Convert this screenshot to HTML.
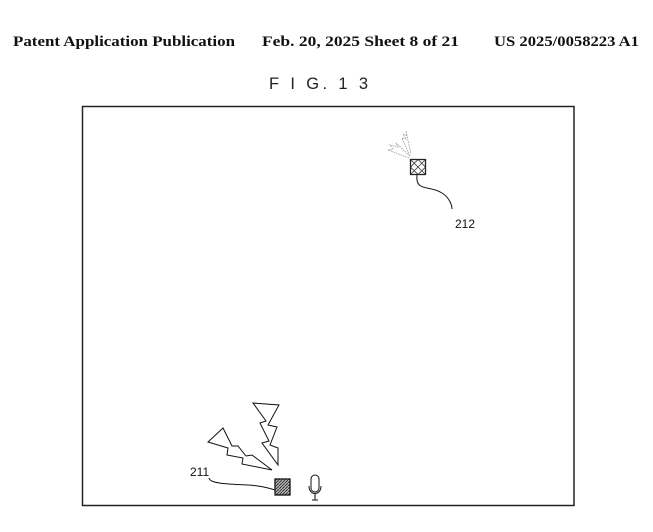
<!DOCTYPE html>
<html><head><meta charset="utf-8"><style>
html,body{margin:0;padding:0;background:#fff;}
svg{display:block;}
</style></head><body>
<svg width="653" height="532" viewBox="0 0 653 532" xmlns="http://www.w3.org/2000/svg">
<defs>
<pattern id="hatch" width="3" height="3" patternUnits="userSpaceOnUse">
<rect width="3" height="3" fill="#bbb"/><path d="M0,3 L3,0" stroke="#333" stroke-width="1"/>
</pattern>
</defs>
<g font-family="Liberation Serif, serif" font-weight="bold" font-size="14.5" fill="#111">
<text x="13" y="46" textLength="222" lengthAdjust="spacingAndGlyphs">Patent Application Publication</text>
<text x="262" y="46" textLength="197" lengthAdjust="spacingAndGlyphs">Feb. 20, 2025  Sheet 8 of 21</text>
<text x="494" y="46" textLength="145" lengthAdjust="spacingAndGlyphs">US 2025/0058223 A1</text>
</g>
<text x="269" y="89" font-family="Liberation Sans, sans-serif" font-size="16.5" fill="#222" textLength="99" lengthAdjust="spacing">F I G. 1 3</text>
<rect x="82.5" y="106.5" width="491.5" height="399" fill="none" stroke="#222" stroke-width="1.5"/>
<!-- 212 -->
<rect x="410.5" y="159.5" width="15" height="15" fill="#fff" stroke="#222" stroke-width="1.3"/>
<path d="M410.5,159.5 L425.5,174.5 M425.5,159.5 L410.5,174.5 M418,159.5 L425.5,167 L418,174.5 L410.5,167 Z" stroke="#333" stroke-width="0.8" fill="none"/>
<g stroke="#999" stroke-width="0.8" fill="none" stroke-dasharray="1.5,1">
<path d="M409,158 L388,150 L393,149 L390,145 L398,147 L396,143 L410,156"/>
<path d="M410,156 L402,138 L406,139 L403,134 L407,136 L406,131 L411,154"/>
</g>
<path d="M417,175 C415,192 430,185 442,193 C450,198 452,206 452,209" stroke="#111" stroke-width="1" fill="none"/>
<text x="455" y="228" font-family="Liberation Sans, sans-serif" font-size="12" fill="#111">212</text>
<!-- 211 -->
<rect x="275" y="479" width="15" height="16" fill="url(#hatch)" stroke="#111" stroke-width="1.3"/>
<path d="M253,403 L279,405 L268,425 L277,427 L270,445 L278,448 L278,465 L262,443 L269,441 L260,423 L266,421 Z" fill="#fff" stroke="#111" stroke-width="1"/>
<path d="M223,428 L208,442 L228,448 L227,455 L243,458 L242,464 L272,470 L252,455 L246,456 L238,446 L232,446 Z" fill="#fff" stroke="#111" stroke-width="1"/>
<path d="M209,478 C210,484 230,484 248,485 C262,486 268,488 275,490" stroke="#111" stroke-width="1" fill="none"/>
<text x="190" y="476" font-family="Liberation Sans, sans-serif" font-size="12" fill="#111">211</text>
<!-- mic -->
<rect x="311" y="475" width="8" height="17" rx="4" fill="#fff" stroke="#111" stroke-width="1"/>
<path d="M309,486 C309,496 321,496 321,486 M315,494 L315,500 M312,500 L318,500" stroke="#111" stroke-width="1" fill="none"/>
</svg>
</body></html>
